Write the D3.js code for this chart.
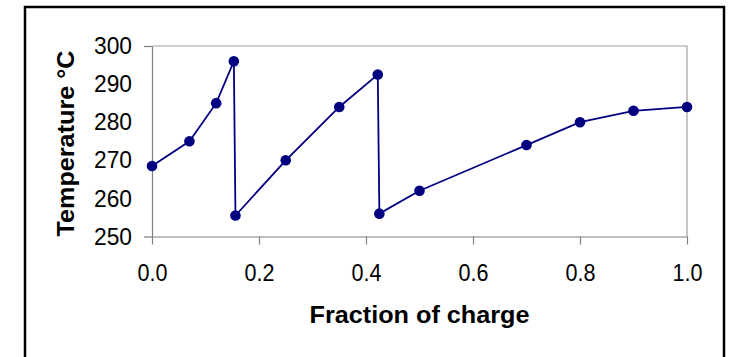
<!DOCTYPE html>
<html>
  <head>
    <title>Temperature vs Fraction of charge</title>
    <script src="https://d3js.org/d3.v7.min.js"></script>
    <style>
      body {
        margin: 0;
        background: white;
      }
      text {
        font-family: "Liberation Sans", Arial, sans-serif;
        fill: black;
      }
      .tickLabel {
        font-size: 24px;
      }
      .axisTitle {
        font-size: 23px;
        font-weight: bold;
      }
    </style>
  </head>
  <body>
    <div id="chart"></div>

    <script>
      // Values
      const fraction = [0, 0.07, 0.12, 0.153, 0.156, 0.25, 0.35, 0.422, 0.425, 0.5, 0.7, 0.8, 0.9, 1.0];
      const temperature = [268.5, 275, 285, 296, 255.5, 270, 284, 292.5, 256, 262, 274, 280, 283, 284];
      const xTicks = [0, 0.2, 0.4, 0.6, 0.8, 1.0];
      const yTicks = [250, 260, 270, 280, 290, 300];

      const width = 729;
      const height = 357;

      const svg = d3
        .select("#chart")
        .append("svg")
        .attr("width", width)
        .attr("height", height);

      // Outer frame (bottom edge runs off the picture)
      svg.append("rect")
        .attr("x", 25)
        .attr("y", 7)
        .attr("width", 699)
        .attr("height", 400)
        .attr("fill", "white")
        .attr("stroke", "black")
        .attr("stroke-width", 2.5);

      // Scales
      const x = d3.scaleLinear().domain([0, 1]).range([152, 687]);
      const y = d3.scaleLinear().domain([250, 300]).range([236.5, 46]);

      // Plot area border (top and right)
      svg.append("path")
        .attr("d", `M${x(0)},${y(300)}H${x(1)}V${y(250)}`)
        .attr("fill", "none")
        .attr("stroke", "#a0a0a0")
        .attr("stroke-width", 1.2);

      // Y axis: labels without ticks, plus short ticks at the ends
      const yAxis = svg.append("g")
        .attr("transform", `translate(${x(0)},0)`)
        .call(d3.axisLeft(y).tickValues(yTicks).tickSize(0).tickPadding(20).tickFormat(d3.format("d")));
      yAxis.select(".domain").attr("stroke", "#808080").attr("stroke-width", 1.2);
      yAxis.selectAll("text")
        .attr("class", "tickLabel")
        .attr("fill", "black")
        .attr("textLength", 38)
        .attr("lengthAdjust", "spacingAndGlyphs");

      const yEnds = svg.append("g")
        .attr("transform", `translate(${x(0)},0)`)
        .call(d3.axisLeft(y).tickValues([250, 300]).tickSize(8).tickFormat(""));
      yEnds.select(".domain").remove();
      yEnds.selectAll("line").attr("stroke", "#808080").attr("stroke-width", 1.2);

      // X axis
      const xAxis = svg.append("g")
        .attr("transform", `translate(0,${y(250)})`)
        .call(d3.axisBottom(x).tickValues(xTicks).tickSize(8).tickPadding(19).tickSizeOuter(0).tickFormat(d3.format(".1f")));
      xAxis.select(".domain").attr("stroke", "#808080").attr("stroke-width", 1.2);
      xAxis.selectAll("line").attr("stroke", "#808080").attr("stroke-width", 1.2);
      xAxis.selectAll("text")
        .attr("class", "tickLabel")
        .attr("fill", "black")
        .attr("textLength", 30)
        .attr("lengthAdjust", "spacingAndGlyphs");

      // Line and markers
      const points = fraction.map((f, i) => ({ f: f, t: temperature[i] }));
      const line = d3.line().x((d) => x(d.f)).y((d) => y(d.t));

      svg.append("path")
        .datum(points)
        .attr("d", line)
        .attr("fill", "none")
        .attr("stroke", "#000080")
        .attr("stroke-width", 1.8);

      svg.selectAll(".dot")
        .data(points)
        .enter()
        .append("circle")
        .attr("class", "dot")
        .attr("cx", (d) => x(d.f))
        .attr("cy", (d) => y(d.t))
        .attr("r", 5.3)
        .attr("fill", "#000080");

      // Axis titles
      svg.append("text")
        .attr("class", "axisTitle")
        .attr("text-anchor", "middle")
        .attr("x", (x(0) + x(1)) / 2)
        .attr("y", 323)
        .attr("textLength", 220)
        .attr("lengthAdjust", "spacingAndGlyphs")
        .text("Fraction of charge");

      svg.append("text")
        .attr("class", "axisTitle")
        .attr("text-anchor", "middle")
        .attr("transform", `translate(74,${(50 + 237) / 2}) rotate(-90)`)
        .attr("textLength", 186)
        .attr("lengthAdjust", "spacingAndGlyphs")
        .text("Temperature °C");
    </script>
  </body>
</html>
